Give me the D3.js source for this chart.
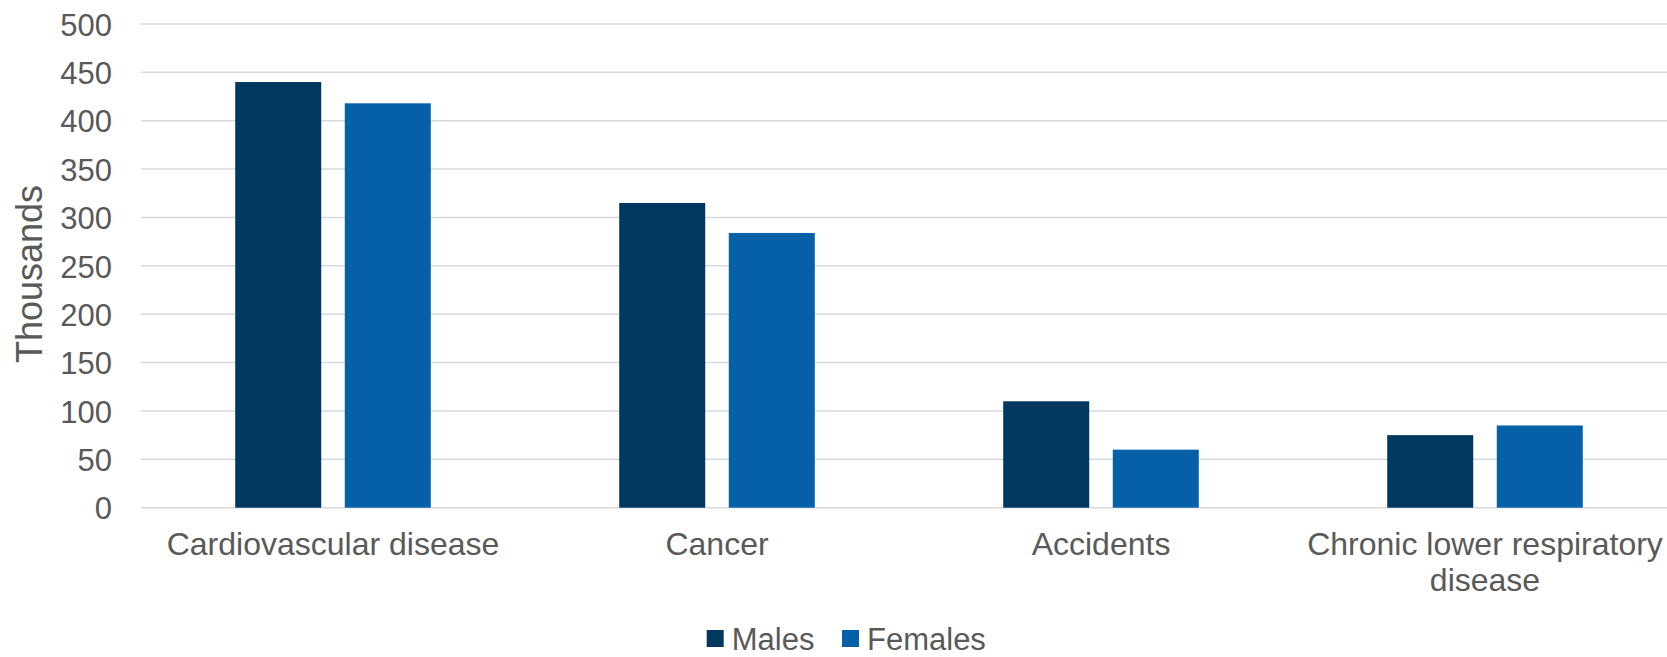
<!DOCTYPE html>
<html>
<head>
<meta charset="utf-8">
<script src="https://cdn.jsdelivr.net/npm/d3@7"></script>
<style>
  body { margin: 0; background: #fff; }
  svg { display: block; font-family: Arial, "Liberation Sans", sans-serif; }
</style>
</head>
<body>
<div id="chart"></div>
<script>
const categories = ['Cardiovascular disease', 'Cancer', 'Accidents', 'Chronic lower respiratory disease'];
const seriesNames = ['Males', 'Females'];
const males = [440, 315, 110, 75];
const females = [418, 284, 60, 85];
const yTicks = [0, 50, 100, 150, 200, 250, 300, 350, 400, 450, 500];
const colors = ['#02375F', '#0560A8'];

const width = 1667;
const height = 657;
const textColor = '#595959';

const svg = d3.select('#chart')
  .append('svg')
  .attr('width', width)
  .attr('height', height);

const x0 = d3.scaleBand()
  .domain(categories)
  .range([141, 1677])
  .paddingInner(0)
  .paddingOuter(0);

const x1 = d3.scaleBand()
  .domain(seriesNames)
  .range([0, x0.bandwidth()])
  .paddingInner(0.215)
  .paddingOuter(0.86);

const y = d3.scaleLinear()
  .domain([0, 500])
  .range([507.7, 24]);

// gridlines
svg.append('g')
  .selectAll('line')
  .data(yTicks)
  .join('line')
  .attr('x1', 141)
  .attr('x2', width)
  .attr('y1', d => y(d))
  .attr('y2', d => y(d))
  .attr('stroke', '#D9D9D9')
  .attr('stroke-width', 1.5);

// y axis labels
const yAxis = svg.append('g')
  .attr('transform', 'translate(141,0)')
  .call(d3.axisLeft(y).tickValues(yTicks).tickSize(0).tickPadding(29));
yAxis.select('.domain').remove();
yAxis.selectAll('text')
  .attr('font-size', 31)
  .attr('font-family', 'Arial, "Liberation Sans", sans-serif')
  .attr('fill', textColor)
  .attr('dy', '0.36em');

svg.append('text')
  .attr('transform', 'translate(42,274) rotate(-90)')
  .attr('text-anchor', 'middle')
  .attr('font-size', 36)
  .attr('fill', textColor)
  .text('Thousands');

// bars
const rows = categories.map((c, i) => ({ cat: c, values: [males[i], females[i]] }));

const groups = svg.append('g')
  .selectAll('g')
  .data(rows)
  .join('g')
  .attr('transform', d => `translate(${x0(d.cat)},0)`);

groups.selectAll('rect')
  .data(d => d.values.map((v, j) => ({ name: seriesNames[j], value: v, j })))
  .join('rect')
  .attr('x', d => x1(d.name))
  .attr('y', d => y(d.value))
  .attr('width', x1.bandwidth())
  .attr('height', d => y(0) - y(d.value))
  .attr('fill', d => colors[d.j]);

// x axis labels with wrapping
const xAxis = svg.append('g')
  .attr('transform', `translate(0,${y(0)})`)
  .call(d3.axisBottom(x0).tickSize(0).tickPadding(0));
xAxis.select('.domain').remove();
xAxis.selectAll('text')
  .attr('font-size', 32)
  .attr('font-family', 'Arial, "Liberation Sans", sans-serif')
  .attr('fill', textColor)
  .attr('y', 47)
  .attr('dy', 0)
  .each(function(d) {
    const t = d3.select(this);
    const words = d.split(' ');
    t.text(null);
    let line = [];
    let lineNo = 0;
    let tspan = t.append('tspan').attr('x', 0).attr('y', 47);
    words.forEach(w => {
      line.push(w);
      tspan.text(line.join(' '));
      if (tspan.node().getComputedTextLength() > x0.bandwidth() - 10 && line.length > 1) {
        line.pop();
        tspan.text(line.join(' '));
        line = [w];
        lineNo++;
        tspan = t.append('tspan').attr('x', 0).attr('y', 47 + lineNo * 36).text(w);
      }
    });
  });

// legend
const legendX = [706.7, 842];
const legend = svg.append('g')
  .selectAll('g')
  .data(seriesNames)
  .join('g')
  .attr('transform', (d, i) => `translate(${legendX[i]},630)`);
legend.append('rect')
  .attr('width', 17)
  .attr('height', 17)
  .attr('fill', (d, i) => colors[i]);
legend.append('text')
  .attr('x', 25)
  .attr('y', 20)
  .attr('font-size', 31)
  .attr('fill', textColor)
  .text(d => d);
</script>
</body>
</html>
